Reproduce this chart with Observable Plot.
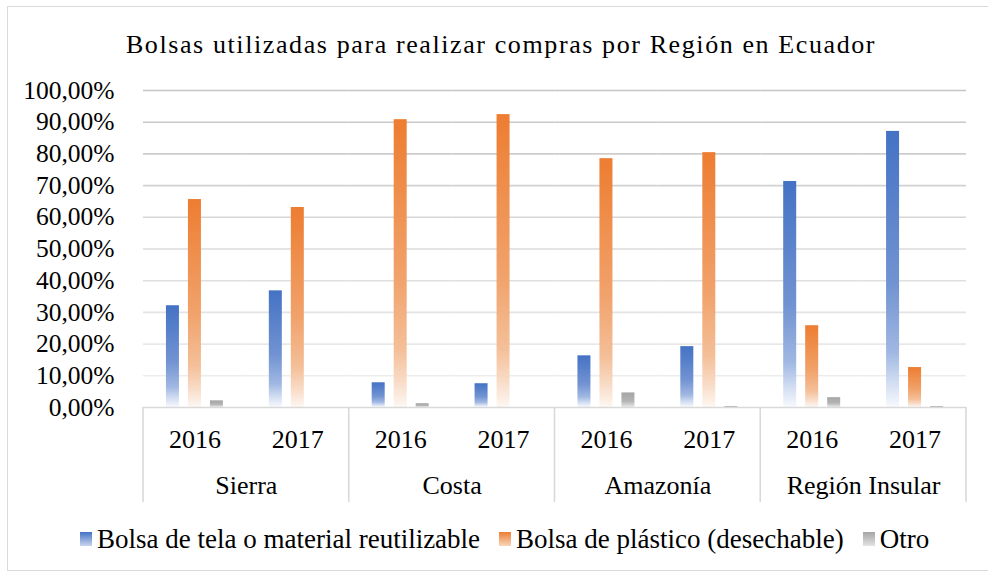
<!DOCTYPE html>
<html>
<head>
<meta charset="utf-8">
<script src="https://cdn.jsdelivr.net/npm/d3@7"></script>
<script src="https://cdn.jsdelivr.net/npm/@observablehq/plot@0.6"></script>
<style>
  html, body { margin: 0; padding: 0; background: #fff; overflow: hidden; }
  #wrap { position: relative; width: 988px; height: 573px; font-family: 'Liberation Serif', 'Times New Roman', serif; color: #000; }
  #frame { position: absolute; left: 7px; top: 6px; width: 990px; height: 565px; border: 1px solid #d9d9d9; box-sizing: border-box; }
  #title { position: absolute; left: 0; top: 28px; width: 1002px; text-align: center; font-size: 26px; line-height: 34px; letter-spacing: 1.6px; }
  #chart { position: absolute; left: 0; top: 72px; }
  #chart svg text { font-family: 'Liberation Serif', 'Times New Roman', serif; }
  #legend { position: absolute; left: 80px; top: 522px; display: flex; align-items: center; font-size: 27px; line-height: 34px; white-space: nowrap; }
  .item { display: flex; align-items: center; margin-right: 19px; }
  .sw { width: 12px; height: 14px; margin-right: 5px; }
</style>
</head>
<body>
<div id="wrap">
  <div id="frame"></div>
  <div id="title">Bolsas utilizadas para realizar compras por Región en Ecuador</div>
  <div id="chart"></div>
  <div id="legend"></div>
</div>
<script>
// ---- data ----
const regions = ["Sierra", "Costa", "Amazonía", "Región Insular"];
const years = ["2016", "2017"];
const series = ["Bolsa de tela o material reutilizable", "Bolsa de plástico (desechable)", "Otro"];
// values in percent, order: Sierra 2016, Sierra 2017, Costa 2016, Costa 2017, Amazonía 2016, Amazonía 2017, Insular 2016, Insular 2017
const reusable = [32.1, 36.8, 7.8, 7.5, 16.3, 19.2, 71.3, 87.1];
const plastic  = [65.6, 63.1, 90.8, 92.4, 78.5, 80.4, 25.8, 12.6];
const other    = [2.1, 0.0, 1.2, 0.0, 4.6, 0.3, 3.1, 0.3];
const yTicks = [0, 0.1, 0.2, 0.3, 0.4, 0.5, 0.6, 0.7, 0.8, 0.9, 1.0];

// ---- build table ----
const keys = regions.flatMap(r => years.map(y => r + "|" + y));
const valuesBySeries = [reusable, plastic, other];
const data = [];
keys.forEach((k, i) => {
  series.forEach((s, j) => data.push({key: k, series: s, value: valuesBySeries[j][i] / 100}));
});

const gradIds = ["gBlue", "gOrange", "gGray"];
const fmt = d => (d * 100).toFixed(2).replace(".", ",") + "%";

const W = 988, H = 438, mT = 18, mB = 103, mL = 143, mR = 22;

const plot = Plot.plot({
  width: W, height: H,
  marginLeft: mL, marginRight: mR, marginTop: mT, marginBottom: mB,
  style: {fontFamily: "Liberation Serif, Times New Roman, serif", fontSize: "26px", color: "#000", background: "transparent", overflow: "visible"},
  fx: {domain: keys, padding: 0, label: null, round: false},
  x: {domain: series, paddingInner: 0.409, paddingOuter: 1.043, axis: null, round: false},
  y: {domain: [0, 1], axis: null},
  color: {domain: series, range: gradIds.map(id => `url(#${id})`)},
  marks: [
    Plot.ruleY(yTicks.filter(d => d > 0), {stroke: "url(#gridGrad)", strokeWidth: 1.6}),
    Plot.barY(data, {fx: "key", x: "series", y: "value", fill: "series"}),
    Plot.ruleY([0], {stroke: "#d9d9d9", strokeWidth: 1.6}),
    Plot.axisY(yTicks, {tickSize: 0, tickPadding: 29, tickFormat: fmt, fontSize: 25.5, label: null}),
    Plot.axisFx({anchor: "bottom", tickSize: 0, tickPadding: 22, fontSize: 26, label: null, tickFormat: d => d.split("|")[1]}),
    Plot.text(regions, {fx: d => d + "|2016", text: d => d, frameAnchor: "bottom-right", dy: 86, textAnchor: "middle", fontSize: 26})
  ]
});

// gradients
const svg = d3.select(plot);
const defs = svg.insert("defs", ":first-child");
function grad(id, stops) {
  const g = defs.append("linearGradient").attr("id", id).attr("x1", 0).attr("y1", 0).attr("x2", 0).attr("y2", 1);
  stops.forEach(([o, c]) => g.append("stop").attr("offset", o).attr("stop-color", c));
}
grad("gBlue", [[0, "#4472C4"], [0.55, "#7193d2"], [0.8, "#a0b7e2"], [0.92, "#d5e0f3"], [1, "#f7f9fd"]]);
grad("gOrange", [[0, "#ED7D31"], [0.55, "#F1A26B"], [0.8, "#F4BF98"], [0.92, "#F9DECB"], [1, "#FDF7F2"]]);
grad("gGray", [[0, "#A5A5A5"], [0.6, "#B4B4B4"], [1, "#E8E8E8"]]);
const gg = defs.append("linearGradient").attr("id", "gridGrad").attr("gradientUnits", "userSpaceOnUse")
  .attr("x1", 0).attr("y1", mT).attr("x2", 0).attr("y2", H - mB);
gg.append("stop").attr("offset", 0).attr("stop-color", "#c4c4c4");
gg.append("stop").attr("offset", 1).attr("stop-color", "#f1f1f1");

// region separators (two-level category axis), positioned with the fx scale
const fxs = plot.scale("fx");
const sepX = regions.map(r => fxs.apply(r + "|2016"));
sepX.push(fxs.apply(keys[keys.length - 1]) + fxs.bandwidth);
svg.append("g").selectAll("line").data(sepX).join("line")
  .attr("x1", d => d).attr("x2", d => d)
  .attr("y1", H - mB).attr("y2", H - mB + 95)
  .attr("stroke", "#d9d9d9").attr("stroke-width", 1.6);

document.getElementById("chart").appendChild(plot);

// legend
const legend = d3.select("#legend");
const lsvg = legend.append("svg").attr("width", 0).attr("height", 0).style("position", "absolute");
const ldefs = lsvg.append("defs");
function lgrad(id, c0, c1) {
  const g = ldefs.append("linearGradient").attr("id", id).attr("x1", 0).attr("y1", 0).attr("x2", 0).attr("y2", 1);
  g.append("stop").attr("offset", 0).attr("stop-color", c0);
  g.append("stop").attr("offset", 1).attr("stop-color", c1);
}
const lc = [["#4472C4", "#c9d6ef"], ["#ED7D31", "#f8d6bd"], ["#A5A5A5", "#e3e3e3"]];
series.forEach((s, i) => {
  lgrad("lg" + i, lc[i][0], lc[i][1]);
  const it = legend.append("div").attr("class", "item");
  it.append("svg").attr("class", "sw").attr("width", 12).attr("height", 14)
    .append("rect").attr("width", 12).attr("height", 14).attr("fill", `url(#lg${i})`);
  it.append("span").text(s);
});
</script>
</body>
</html>
